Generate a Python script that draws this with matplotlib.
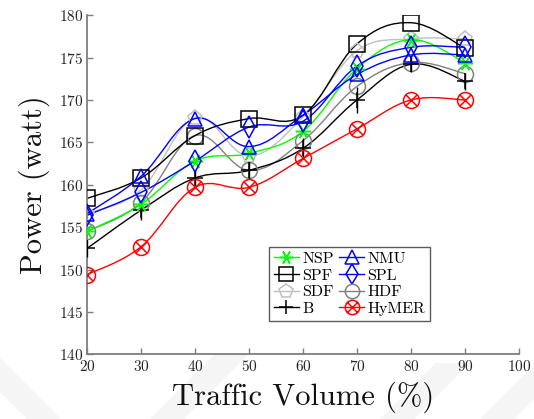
import numpy as np
import matplotlib
matplotlib.use("Agg")
import matplotlib.pyplot as plt
from matplotlib.path import Path
from matplotlib.patches import PathPatch
from matplotlib.lines import Line2D

plt.rcParams["font.family"] = ["cmr10", "DejaVu Serif"]
plt.rcParams["mathtext.fontset"] = "cm"
plt.rcParams["axes.formatter.use_mathtext"] = True

# Traffic volume (%)
traffic = [20, 30, 40, 50, 60, 70, 80, 90]

# Power (watt) for each scheme
nsp = [154.5, 157.7, 162.8, 163.7, 166.3, 173.7, 177.1, 174.4]
nmu = [156.6, 161.0, 167.8, 164.5, 168.2, 173.0, 175.3, 175.3]
spf = [158.4, 160.8, 165.8, 167.8, 168.2, 176.6, 179.1, 176.1]
spl = [156.4, 159.1, 162.8, 166.8, 167.5, 174.0, 176.2, 176.2]
sdf = [156.6, 159.4, 167.9, 163.4, 168.0, 175.8, 177.2, 177.2]
hdf = [154.5, 157.9, 165.8, 161.7, 165.2, 171.6, 174.4, 173.1]
b_vals = [152.5, 157.0, 160.8, 161.7, 164.3, 170.0, 174.2, 172.2]
b_err = [1.0, 1.2, 0.9, 1.0, 1.2, 1.5, 0.9, 1.0]
hymer = [149.4, 152.7, 159.7, 159.7, 163.1, 166.6, 170.0, 170.0]

x_ticks = [20, 30, 40, 50, 60, 70, 80, 90, 100]
y_ticks = [140, 145, 150, 155, 160, 165, 170, 175, 180]


def smooth_path(xs, ys, tension=0.55):
    """Cubic Bezier path through the points (TikZ-style smooth plot)."""
    pts = np.column_stack([xs, ys]).astype(float)
    n = len(pts)
    k = tension / 3.0
    verts = [pts[0]]
    codes = [Path.MOVETO]
    for i in range(n - 1):
        p0 = pts[i - 1] if i > 0 else pts[i]
        p1 = pts[i]
        p2 = pts[i + 1]
        p3 = pts[i + 2] if i + 2 < n else pts[i + 1]
        c1 = p1 + k * (p2 - p0)
        c2 = p2 - k * (p3 - p1)
        verts += [c1, c2, p2]
        codes += [Path.CURVE4] * 3
    return Path(verts, codes)


# circle with a cross inside (otimes)
_circ = Path.unit_circle()
_d = np.sqrt(0.5)
_cross = Path([[-_d, -_d], [_d, _d], [-_d, _d], [_d, -_d]],
              [Path.MOVETO, Path.LINETO, Path.MOVETO, Path.LINETO])
otimes = Path.make_compound_path(_circ, _cross)

GREEN = (0, 1, 0)
BLUE = (0, 0, 1)
RED = (1, 0, 0)
GRAY = (0.5, 0.5, 0.5)
LGRAY = (0.75, 0.75, 0.75)

W, H = 534, 419
fig = plt.figure(figsize=(W / 100, H / 100), dpi=100)

# faint diagonal background bands along the bottom of the page
bands = [
    [(0, 358), (0, 392), (27, 419), (61, 419)],
    [(150, 419), (184, 419), (250, 353), (216, 353)],
    [(380, 419), (414, 419), (470, 363), (436, 363)],
    [(480, 419), (514, 419), (534, 399), (534, 365)],
]
for poly in bands:
    xy = [(px / W, 1 - py / H) for px, py in poly]
    fig.patches.append(plt.Polygon(xy, closed=True, transform=fig.transFigure,
                                   facecolor="#f5f5f5", edgecolor="none",
                                   zorder=-10))

ax = fig.add_axes([0.163, 0.154, 0.809, 0.810])
ax.set_zorder(1)
ax.patch.set_alpha(0)

series = [
    # label, values, color, marker, size
    ("SDF", sdf, LGRAY, "p", 11),
    ("HDF", hdf, GRAY, "o", 11.5),
    ("B", b_vals, "black", "+", 11),
    ("SPF", spf, "black", "s", 11.5),
    ("NSP", nsp, GREEN, (6, 2, 90), 11),
    ("SPL", spl, BLUE, "d", 11),
    ("NMU", nmu, BLUE, "^", 10.5),
    ("HyMER", hymer, RED, otimes, 11.5),
]

handles = {}
for label, vals, col, mk, ms in series:
    ax.add_patch(PathPatch(smooth_path(traffic, vals), facecolor="none",
                           edgecolor=col, lw=1.0, zorder=2))
    if label == "B":
        ax.errorbar(traffic, vals, yerr=b_err, fmt="none", ecolor="black",
                    elinewidth=1.0, capsize=0, zorder=3)
    ax.plot(traffic, vals, ls="none", marker=mk, ms=ms, mec=col, mfc="none",
            mew=1.1, zorder=3)
    handles[label] = Line2D([], [], color=col, lw=1.0, marker=mk, ms=ms * 0.9,
                            mec=col, mfc="none", mew=1.1)

ax.set_xlim(20, 100)
ax.set_ylim(140, 180)
ax.set_xticks(x_ticks)
ax.set_yticks(y_ticks)

for s in ["top", "right"]:
    ax.spines[s].set_visible(False)
for s in ["left", "bottom"]:
    ax.spines[s].set_color("#7f7f7f")
    ax.spines[s].set_linewidth(1.3)
ax.tick_params(direction="in", length=4, width=1.0, color="#7f7f7f",
               labelsize=11, labelcolor="#262626", pad=3)

ax.set_xlabel("Traffic Volume (%)", fontsize=22, labelpad=6, color="#111111")
ax.set_ylabel("Power (watt)", fontsize=22, labelpad=6, color="#111111")

order = ["NSP", "SPF", "SDF", "B", "NMU", "SPL", "HDF", "HyMER"]
leg = ax.legend([handles[k] for k in order], order, ncol=2, loc="lower left",
                bbox_to_anchor=(0.421, 0.10), fontsize=11.5, frameon=True,
                fancybox=False, edgecolor="#333333", handlelength=1.6,
                handletextpad=0.2, columnspacing=0.3, labelspacing=0.15,
                borderpad=0.3, borderaxespad=0.0)
leg.get_frame().set_linewidth(1.0)

fig.savefig("out.png", dpi=100)
